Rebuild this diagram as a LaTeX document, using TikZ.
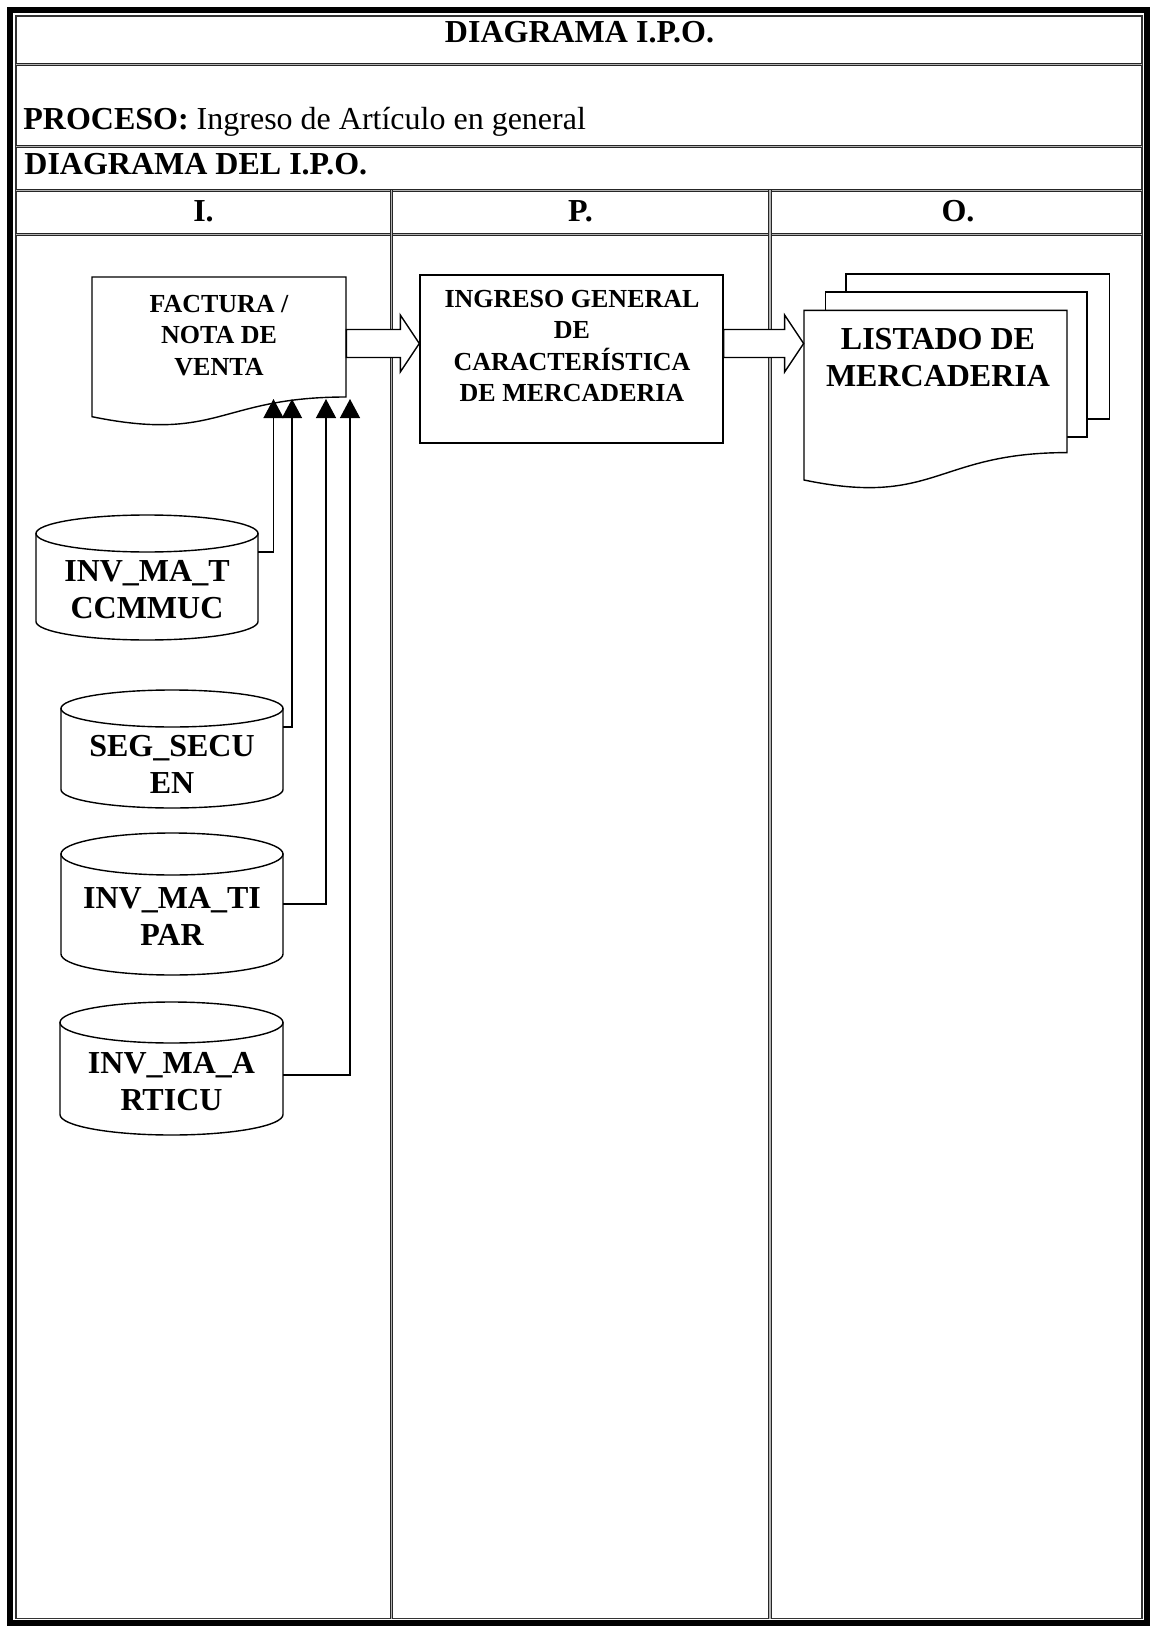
\documentclass[tikz,border=0pt]{standalone}
\usepackage{fontspec}
\setmainfont{Liberation Serif}
\usetikzlibrary{arrows.meta,calc}
\newcommand\dbcyl[6]{%
  \pgfmathsetmacro\dbxc{(#2+#3)/2}%
  \pgfmathsetmacro\dbrx{(#3-#2)/2}%
  \pgfmathsetmacro\dbyc{(#4+#5)/2}%
  \pgfmathsetmacro\dbw{(#3-#2)*0.5}%
  \pgfmathsetmacro\dbh{(#5-#4)*0.5}%
  \pgfmathsetmacro\dbya{#4+#6}%
  \pgfmathsetmacro\dbyb{#5-#6}%
  \pgfmathsetmacro\dbky{#5-#6+0.5523*#6}%
  \pgfmathsetmacro\dbkl{\dbxc-0.5523*\dbrx}%
  \pgfmathsetmacro\dbkr{\dbxc+0.5523*\dbrx}%
  \node[ghostbox, minimum width=\dbw pt, minimum height=\dbh pt] (#1) at (\dbxc,\dbyc) {};
  \draw[shp] (#2,\dbya) -- (#2,\dbyb) .. controls (#2,\dbky) and (\dbkl,#5) .. (\dbxc,#5) .. controls (\dbkr,#5) and (#3,\dbky) .. (#3,\dbyb) -- (#3,\dbya) -- cycle;
  \draw[shp] (\dbxc,\dbya) ellipse [x radius=\dbrx, y radius=#6];
}
\begin{document}
\begin{tikzpicture}[x=0.5pt,y=-0.5pt,
  frame/.style={line width=3pt, draw=black},
  thinframe/.style={line width=0.6pt, draw=black!80},
  dline/.style={draw=black!85, line width=0.5pt, double=black!30, double distance=0.9pt},
  shp/.style={draw=black, line width=0.7pt, fill=white},
  ghostbox/.style={inner sep=0, draw=none},
  conn/.style={draw=black, line width=0.65pt, -{Triangle[width=10pt,length=9.5pt]}},
  barrow/.style={draw=black, line width=0.7pt, fill=white, line join=miter},
  txthdr/.style={inner sep=0, font=\bfseries\fontsize{16}{19}\selectfont},
  txtproc/.style={inner sep=0, font=\fontsize{16}{19}\selectfont},
  txtsmall/.style={inner sep=0, align=center, font=\bfseries\fontsize{13}{15.8}\selectfont},
  txtbig/.style={inner sep=0, align=center, font=\bfseries\fontsize{16}{18.7}\selectfont},
  txtout/.style={inner sep=0, align=center, font=\bfseries\fontsize{16}{18.5}\selectfont},
]
\useasboundingbox (0,0) rectangle (1151,1626);
% frame and table lines
\draw[frame] (10,10) rectangle (1146.5,1623);
\draw[thinframe] (16,16) rectangle (1142,1618.5);
\foreach \yy in {64.5,146.5,190.5,234.5} \draw[dline] (16,\yy) -- (1142,\yy);
\foreach \xx in {391.5,770} \draw[dline] (\xx,190.5) -- (\xx,1618.5);
% header texts
\node[txthdr, anchor=base] (title) at (579.5,43) {DIAGRAMA I.P.O.};
\node[txtproc, anchor=base west] (proc) at (23,130) {\textbf{PROCESO:} Ingreso de Artículo en general};
\node[txthdr, anchor=base west] (sub) at (24,175) {DIAGRAMA DEL I.P.O.};
\node[txthdr, anchor=base] (hi) at (203.5,222) {I.};
\node[txthdr, anchor=base] (hp) at (580.5,222) {P.};
\node[txthdr, anchor=base] (ho) at (958,222) {O.};
% output multi-document
\draw[shp] (846,274) rectangle (1109.5,419);
\draw[shp] (825.7,292) rectangle (1087,437);
\draw[shp] (804,310.4) -- (1067,310.4) -- (1067,452.6) .. controls (935.5,452.6) and (935.5,507.3) .. (804,480) -- cycle;
\node[ghostbox, minimum width=131.5pt, minimum height=85pt] (out) at (935.5,395.2) {};
\node[txtout, anchor=north] (outtxt) at (938,327.5) {LISTADO DE\\MERCADERIA};
% input document
\draw[shp] (92,277) -- (346,277) -- (346,397) .. controls (219,397) and (219,442.7) .. (92,416.7) -- cycle;
\node[ghostbox, minimum width=127pt, minimum height=70pt] (fac) at (219,347) {};
\node[txtsmall, anchor=north] (factxt) at (219,294.5) {FACTURA /\\NOTA DE\\VENTA};
% process box
\node[shp, inner sep=0, minimum width=151.5pt, minimum height=84pt] (ing) at (571.5,359) {};
\node[txtsmall, anchor=north] (ingtxt) at (572,289.4) {INGRESO GENERAL\\DE\\CARACTERÍSTICA\\DE MERCADERIA};
% block arrows
\coordinate (arow) at (0,343.5);
\coordinate (a1s) at (fac.east |- arow);
\coordinate (a1t) at (ing.west |- arow);
\coordinate (a2s) at (ing.east |- arow);
\coordinate (a2t) at (out.west |- arow);
\draw[barrow] ($(a1s)+(0,-14)$) -- ($(a1t)+(-19,-14)$) -- ($(a1t)+(-19,-28.5)$) -- (a1t) -- ($(a1t)+(-19,28.5)$) -- ($(a1t)+(-19,14)$) -- ($(a1s)+(0,14)$) -- cycle;
\draw[barrow] ($(a2s)+(0,-14)$) -- ($(a2t)+(-19,-14)$) -- ($(a2t)+(-19,-28.5)$) -- (a2t) -- ($(a2t)+(-19,28.5)$) -- ($(a2t)+(-19,14)$) -- ($(a2s)+(0,14)$) -- cycle;
% databases
\dbcyl{c1}{36}{258}{515}{640}{18.5}
\node[txtbig, anchor=north] (c1t) at (147,559.5) {INV\_MA\_T\\CCMMUC};
\dbcyl{c2}{61}{283}{690}{808}{18.5}
\node[txtbig, anchor=north] (c2t) at (172,734.5) {SEG\_SECU\\EN};
\dbcyl{c3}{61}{283}{833}{975}{21}
\node[txtbig, anchor=north] (c3t) at (172,886.5) {INV\_MA\_TI\\PAR};
\dbcyl{c4}{60}{283}{1002}{1135}{20.5}
\node[txtbig, anchor=north] (c4t) at (171.5,1051.5) {INV\_MA\_A\\RTICU};
% connectors
\coordinate (t1) at (273.5,399);
\coordinate (t2) at (292,399);
\coordinate (t3) at (326,399);
\coordinate (t4) at (350,399);
\draw[conn] ([yshift=12.75pt]c1.east) -| (t1);
\draw[conn] ([yshift=11pt]c2.east) -| (t2);
\draw[conn] (c3.east) -| (t3);
\draw[conn] ([yshift=-3.25pt]c4.east) -| (t4);
\end{tikzpicture}
\end{document}
